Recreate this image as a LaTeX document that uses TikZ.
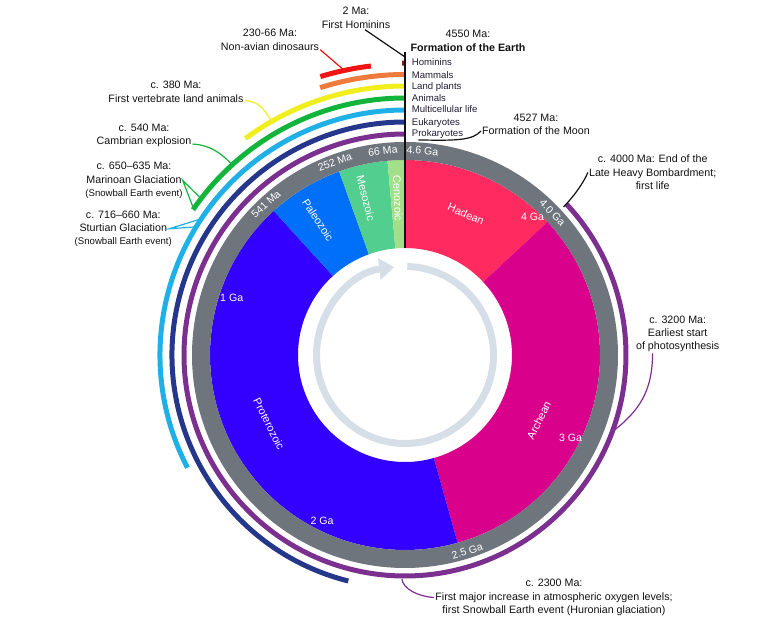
\documentclass[tikz,border=0pt]{standalone}
\usepackage{fontspec}
\setmainfont{Liberation Sans}
\usetikzlibrary{arrows.meta}
\definecolor{clockink}{HTML}{111111}
\definecolor{tagink}{HTML}{221C33}
\definecolor{ringgray}{HTML}{6E757D}
\definecolor{turnblue}{HTML}{D6DEE8}
\definecolor{hadeancol}{HTML}{FF2A5F}
\definecolor{archeancol}{HTML}{D9008C}
\definecolor{protcol}{HTML}{3300FF}
\definecolor{paleocol}{HTML}{0070FA}
\definecolor{mesocol}{HTML}{52CE8E}
\definecolor{cenocol}{HTML}{A3DF88}
\definecolor{prokcol}{HTML}{7B2F8E}
\definecolor{eukcol}{HTML}{25378A}
\definecolor{multicol}{HTML}{1EB0E6}
\definecolor{animcol}{HTML}{12B43C}
\definecolor{plantcol}{HTML}{F0EE1C}
\definecolor{mammcol}{HTML}{EE7A3C}
\definecolor{dinocol}{HTML}{F01414}
\definecolor{homcol}{HTML}{8A1A1A}

\begin{document}
\begin{tikzpicture}[
  x=1pt, y=1pt,
  declare function={ang(\t)=90+\t*0.0782609;},
  every node/.style={clockink},
  lbl/.style={font=\fontsize{10.7}{13.4}\selectfont, align=center, inner sep=1pt},
  tag/.style={font=\fontsize{9.6}{11}\selectfont, tagink, anchor=base west, inner sep=0pt},
  ringtxt/.style={font=\fontsize{10.6}{12}\selectfont, white, inner sep=0pt},
  eontxt/.style={font=\fontsize{11}{12}\selectfont, white, inner sep=0pt},
  lineage/.style={line width=5pt},
  callout/.style={line width=1.2pt},
  stem/.style={clockink, line width=1.5pt},
  turnring/.style={turnblue, line width=7pt}
]
\useasboundingbox (-405,-266) rectangle (372,355);

%% ==== 地质时钟: 各宙 ==============================================
\foreach \ta/\tb/\c in {4600/4000/hadeancol, 4000/2500/archeancol,
                        2500/541/protcol, 541/252/paleocol,
                        252/66/mesocol, 66/0/cenocol}
  \fill[\c] ({ang(\ta)}:107) arc[start angle={ang(\ta)}, end angle={ang(\tb)}, radius=107]
    -- ({ang(\tb)}:195) arc[start angle={ang(\tb)}, end angle={ang(\ta)}, radius=195] -- cycle;

\fill[ringgray, even odd rule] (0,0) circle[radius=213] (0,0) circle[radius=195];

\draw[turnring, -{Triangle[length=15pt, width=21pt]}]
  (88.5:88.5) arc[start angle=88.5, end angle=-263, radius=88.5];

%% ==== 外圈: 生命谱系 ==============================================
\foreach \r/\t/\c in {221/4000/prokcol, 233/2120/eukcol, 245/1500/multicol,
                      257/710/animcol, 269/465/plantcol, 280.5/225/mammcol}
  \draw[lineage, \c] ({ang(\t)}:\r) arc[start angle={ang(\t)}, end angle=90, radius=\r];

\draw[lineage, dinocol] ({ang(216)}:291) arc[start angle={ang(216)}, end angle={ang(86)}, radius=291];
\draw[lineage, homcol] ({ang(7)}:292) arc[start angle={ang(7)}, end angle=90, radius=292];

\coordinate (stemtop) at (0,303);
\coordinate (stembot) at (0,107);
\draw[stem] (stemtop) -- (stembot);

\foreach \nm/\r/\txt in {homtag/292.7/Hominins, mamtag/280.3/Mammals,
                         plttag/269/Land plants, anitag/257.3/Animals,
                         multag/245.7/Multicellular life, euktag/233.3/Eukaryotes,
                         prok/221.7/Prokaryotes}
  \node[tag] (\nm) at (6.7,\r-3.4) {\txt};

%% ==== 环上刻度与名称 ==============================================
\foreach \nm/\a/\txt in {g46/85.1/4.6 Ga, m66/96.2/66 Ma, m252/110/252 Ma,
                         m541/132.7/541 Ma, g40/44/4.0 Ga}
  \node[ringtxt, rotate=\a-90] (\nm) at (\a:205) {\txt};
\node[ringtxt, rotate=17.6] (g25) at (287.6:206) {2.5 Ga};

\node[eontxt, rotate=-23.4] (hadean) at (66.6:153.6) {Hadean};
\node[eontxt, rotate=-87.4] (ceno) at (92.6:157) {Cenozoic};
\node[eontxt, rotate=-76] (meso) at (104:161.8) {Mesozoic};
\node[eontxt, rotate=-57] (paleo) at (122.8:160.6) {Paleozoic};
\node[eontxt, rotate=-63.1] (prot) at (206.9:152.5) {Proterozoic};
\node[eontxt, rotate=64] (arch) at (334:149) {Archean};

\node[ringtxt] (ga4) at (127.5,137.7) {4 Ga};
\node[ringtxt] (ga1) at (-173.3,57.3) {1 Ga};
\node[ringtxt] (ga2) at (-83,-166) {2 Ga};
\node[ringtxt] (ga3) at (165.5,-83.3) {3 Ga};

%% ==== 事件标注 ====================================================
\node[lbl] (hom) at (-49,337) {2 Ma:\\First Hominins};
\node[lbl] (dino) at (-135,315) {230-66 Ma:\\Non-avian dinosaurs};
\node[lbl] (earth) at (63,314) {4550 Ma:\\\textbf{Formation of the Earth}};
\node[lbl] (moon) at (131,230.7) {4527 Ma:\\Formation of the Moon};
\node[lbl] (vert) at (-229,263) {c. 380 Ma:\\First vertebrate land animals};
\node[lbl] (camb) at (-261,219.7) {c. 540 Ma:\\Cambrian explosion};
\node[lbl] (marin) at (-271,174.5)
  {c. 650–635 Ma:\\Marinoan Glaciation\\{\fontsize{9.6}{11}\selectfont(Snowball Earth event)}};
\node[lbl] (sturt) at (-281.7,126.2)
  {c. 716–660 Ma:\\Sturtian Glaciation\\{\fontsize{9.6}{11}\selectfont(Snowball Earth event)}};
\node[lbl] (lhb) at (247.7,182.5) {c. 4000 Ma: End of the\\Late Heavy Bombardment;\\first life};
\node[lbl] (photo) at (272.7,21.1) {c. 3200 Ma:\\Earliest start\\of photosynthesis};
\node[lbl] (oxy) at (149,-242.5)
  {c. 2300 Ma:\\First major increase in atmospheric oxygen levels;\\first Snowball Earth event (Huronian glaciation)};

\coordinate (dinoend) at ({ang(150)}:289);
\coordinate (vertend) at ({ang(380)}:271);
\coordinate (cambend) at ({ang(540)}:259);
\coordinate (marin1) at ({ang(671)}:257);
\coordinate (marin2) at ({ang(707)}:257);
\coordinate (sturt1) at ({ang(722)}:246);
\coordinate (sturt2) at ({ang(749)}:246);
\coordinate (lhbend) at ({ang(4000)}:217);
\coordinate (photoend) at ({ang(3200)}:223);
\coordinate (oxyend) at ({ang(2290)}:224);

\draw[callout, clockink] ([xshift=9pt]hom.south) -- ([yshift=-5pt]stemtop);
\draw[callout, dinocol] ([yshift=2pt]dino.south east) -- (dinoend);
\draw[callout, plantcol] ([yshift=3pt]vert.south east) .. controls +(12,0) and +(-7,12) .. (vertend);
\draw[callout, animcol] ([yshift=4pt]camb.south east) .. controls +(18,-1) and +(-10,10) .. (cambend);
\draw[callout, animcol] (marin1) -- ([xshift=-1pt]marin.east) -- (marin2);
\draw[callout, multicol] (sturt1) -- ([xshift=-4pt]sturt.east) -- (sturt2);
\draw[callout, clockink] (lhb.west) .. controls +(-5,-12) and +(8,8) .. (lhbend);
\draw[callout, prokcol] ([xshift=17.7pt]photo.south west) .. controls +(0,-40) and +(22,18) .. (photoend);
\draw[callout, prokcol] (oxy.west) .. controls +(-16,1) and +(1,-10) .. (oxyend);
\draw[callout, clockink] ([xshift=6.6pt,yshift=-1pt]prok.south west)
  .. controls +(40,-1) and +(-8,-9) .. ([yshift=5pt]moon.south west);

\end{tikzpicture}
\end{document}
